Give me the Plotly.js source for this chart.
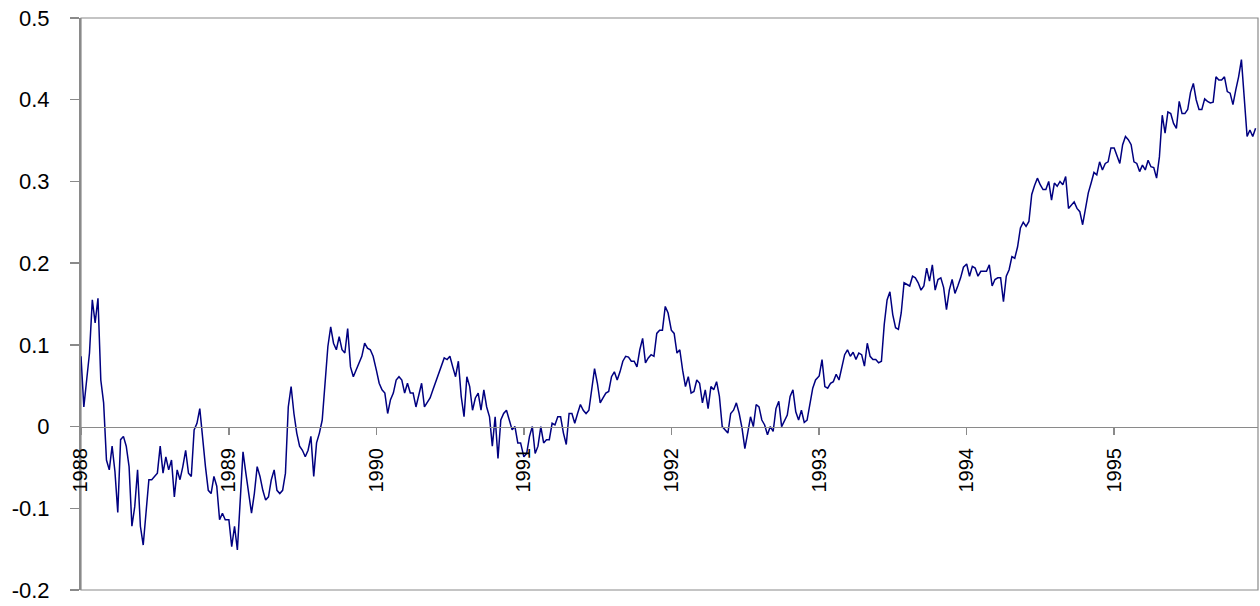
<!DOCTYPE html>
<html>
<head>
<meta charset="utf-8">
<script src="https://cdn.plot.ly/plotly-3.0.1.min.js"></script>
<style>html,body{margin:0;padding:0;background:#fff;}#chart{width:1260px;height:606px;}</style>
</head>
<body>
<div id="chart"></div>
<script>
// Weekly readings of the series, one array per calendar year (values start on 1 Jan of each year)
const v1988 = [0.086,0.024,0.057,0.090,0.155,0.127,0.157,0.057,0.029,-0.041,-0.053,-0.024,-0.055,-0.105,-0.016,-0.012,-0.024,-0.049,-0.122,-0.098,-0.053,-0.122,-0.145,-0.102,-0.065,-0.065,-0.061,-0.057,-0.024,-0.057,-0.037,-0.053,-0.041,-0.086,-0.053,-0.065,-0.049,-0.029,-0.057,-0.061,-0.004,0.004,0.022,-0.016,-0.049,-0.078,-0.082,-0.061,-0.073,-0.114,-0.106,-0.114];
const v1989 = [-0.114,-0.147,-0.122,-0.151,-0.082,-0.031,-0.057,-0.082,-0.106,-0.082,-0.049,-0.061,-0.078,-0.090,-0.086,-0.065,-0.053,-0.078,-0.082,-0.078,-0.057,0.024,0.049,0.016,-0.008,-0.024,-0.029,-0.037,-0.029,-0.012,-0.061,-0.020,-0.008,0.008,0.057,0.098,0.122,0.102,0.094,0.110,0.094,0.090,0.120,0.073,0.061,0.069,0.078,0.086,0.102,0.096,0.094,0.086];
const v1990 = [0.069,0.053,0.045,0.041,0.016,0.033,0.041,0.057,0.061,0.057,0.041,0.053,0.041,0.041,0.024,0.037,0.053,0.024,0.029,0.035,0.045,0.055,0.063,0.073,0.084,0.082,0.086,0.073,0.061,0.080,0.037,0.012,0.061,0.049,0.020,0.035,0.041,0.020,0.045,0.024,0.012,-0.024,0.012,-0.039,0.008,0.016,0.020,0.008,-0.004,0.000,-0.020,-0.020];
const v1991 = [-0.037,-0.033,-0.012,0.000,-0.033,-0.024,0.000,-0.020,-0.016,-0.016,0.004,0.002,0.012,0.012,-0.008,-0.022,0.016,0.016,0.004,0.016,0.027,0.020,0.016,0.020,0.049,0.071,0.053,0.029,0.035,0.041,0.043,0.061,0.067,0.057,0.067,0.080,0.086,0.085,0.080,0.080,0.073,0.094,0.108,0.078,0.084,0.088,0.086,0.114,0.118,0.118,0.147,0.139];
const v1992 = [0.118,0.114,0.090,0.094,0.069,0.049,0.061,0.041,0.043,0.057,0.053,0.029,0.045,0.022,0.049,0.045,0.055,0.037,0.000,-0.004,-0.008,0.016,0.020,0.029,0.016,-0.002,-0.027,-0.008,0.012,0.000,0.027,0.024,0.008,0.002,-0.010,0.000,-0.006,0.022,0.031,0.000,0.008,0.014,0.037,0.045,0.018,0.008,0.020,0.005,0.008,0.029,0.047,0.057];
const v1993 = [0.062,0.082,0.049,0.047,0.053,0.055,0.064,0.057,0.072,0.088,0.094,0.086,0.091,0.082,0.090,0.088,0.074,0.102,0.086,0.082,0.082,0.078,0.080,0.125,0.155,0.165,0.137,0.121,0.119,0.139,0.176,0.174,0.172,0.184,0.182,0.176,0.167,0.172,0.194,0.178,0.198,0.167,0.180,0.182,0.170,0.143,0.167,0.180,0.163,0.172,0.182,0.195];
const v1994 = [0.199,0.184,0.196,0.194,0.184,0.190,0.190,0.190,0.198,0.172,0.180,0.182,0.182,0.153,0.184,0.192,0.208,0.206,0.220,0.243,0.250,0.245,0.251,0.284,0.295,0.304,0.296,0.290,0.290,0.300,0.277,0.298,0.294,0.300,0.296,0.306,0.267,0.271,0.275,0.267,0.263,0.247,0.265,0.286,0.298,0.311,0.308,0.324,0.314,0.322,0.324,0.341];
const v1995 = [0.341,0.330,0.322,0.345,0.355,0.351,0.345,0.324,0.322,0.312,0.320,0.314,0.326,0.318,0.317,0.304,0.330,0.381,0.359,0.385,0.383,0.371,0.365,0.398,0.383,0.383,0.388,0.409,0.420,0.400,0.388,0.388,0.401,0.398,0.396,0.397,0.428,0.424,0.424,0.428,0.410,0.408,0.394,0.412,0.428,0.449,0.396,0.355,0.363,0.355,0.365];

const years = [1988, 1989, 1990, 1991, 1992, 1993, 1994, 1995];
const yearLabels = ["1988", "1989", "1990", "1991", "1992", "1993", "1994", "1995"];
const yTickVals = [-0.2, -0.1, 0, 0.1, 0.2, 0.3, 0.4, 0.5];
const yTickText = ["-0.2", "-0.1", "0", "0.1", "0.2", "0.3", "0.4", "0.5"];

const byYear = [v1988, v1989, v1990, v1991, v1992, v1993, v1994, v1995];
const xs = [], ys = [];
function iso(d){ return d.toISOString().slice(0,10); }
years.forEach((yr, i) => {
  byYear[i].forEach((v, k) => {
    xs.push(iso(new Date(Date.UTC(yr, 0, 1 + 7 * k))));
    ys.push(v);
  });
});

const trace = {
  x: xs, y: ys, type: 'scatter', mode: 'lines',
  line: {color: '#000080', width: 1.5},
  hoverinfo: 'skip'
};

const axisGray = '#8a8a8a';
const fam = 'Liberation Sans, Arial, sans-serif';

const layout = {
  width: 1260, height: 606,
  margin: {l: 81, r: 2, t: 18, b: 16, pad: 0},
  paper_bgcolor: '#fff', plot_bgcolor: '#fff',
  showlegend: false,
  xaxis: {
    type: 'date',
    range: ['1988-01-01', '1995-12-23'],
    anchor: 'free', position: 2/7,
    showline: true, linecolor: axisGray, linewidth: 1.5,
    ticks: 'outside', ticklen: 7, tickcolor: axisGray, tickwidth: 1.5,
    tickvals: years.map(y => y + '-01-01'), ticktext: yearLabels,
    tickangle: -90, tickfont: {family: fam, size: 20, color: '#000'},
    ticklabelstandoff: 5,
    showgrid: false, zeroline: false, fixedrange: true
  },
  yaxis: {
    range: [-0.2, 0.5],
    tickvals: yTickVals, ticktext: yTickText,
    ticks: 'outside', ticklen: 9, tickcolor: axisGray, tickwidth: 1.5,
    showline: true, linecolor: axisGray, linewidth: 2,
    tickfont: {family: fam, size: 22, color: '#000'}, ticklabelstandoff: 16,
    showgrid: false, zeroline: false, fixedrange: true
  },
  shapes: [{
    type: 'rect', xref: 'paper', yref: 'paper', x0: 0, x1: 1, y0: 0, y1: 1,
    line: {color: axisGray, width: 1.2}, layer: 'below'
  }]
};

Plotly.newPlot('chart', [trace], layout, {displayModeBar: false, staticPlot: true});
</script>
</body>
</html>
